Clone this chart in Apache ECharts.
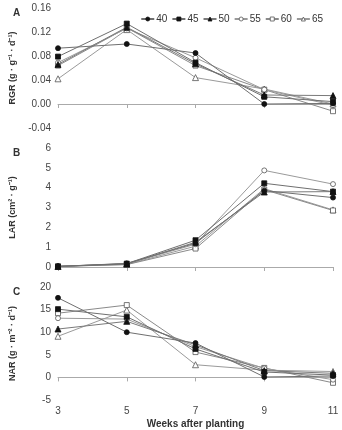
<!DOCTYPE html>
<html>
<head>
<meta charset="utf-8">
<script src="https://cdn.jsdelivr.net/npm/echarts@6/dist/echarts.min.js"></script>
<style>
  html, body { margin: 0; padding: 0; background: #fff; }
  #chart { width: 342px; height: 430px; }
</style>
</head>
<body>
<div id="chart"></div>
<script>
const weeks = [3, 5, 7, 9, 11];
const groups = ['40', '45', '50', '55', '60', '65'];

// RGR (g g-1 d-1)
const rgr40 = [0.093, 0.100, 0.085, 0.000, 0.001];
const rgr45 = [0.079, 0.134, 0.069, 0.012, 0.004];
const rgr50 = [0.066, 0.128, 0.067, 0.015, 0.014];
const rgr55 = [0.069, 0.126, 0.077, 0.024, -0.002];
const rgr60 = [0.064, 0.127, 0.064, 0.024, -0.012];
const rgr65 = [0.042, 0.124, 0.044, 0.025, 0.000];

// LAR (cm2 g-1)
const lar40 = [0.03, 0.18, 1.20, 3.85, 3.50];
const lar45 = [0.03, 0.17, 1.35, 4.22, 3.80];
const lar50 = [0.03, 0.15, 1.25, 3.78, 3.80];
const lar55 = [0.03, 0.16, 1.15, 4.87, 4.18];
const lar60 = [0.03, 0.12, 0.93, 3.90, 2.85];
const lar65 = [0.03, 0.13, 1.05, 3.95, 2.88];

// NAR (g m-2 d-1)
const nar40 = [17.6, 10.0, 7.6, 0.1, 0.3];
const nar45 = [15.1, 13.4, 6.3, 1.2, 0.5];
const nar50 = [10.7, 12.4, 7.2, 1.5, 0.9];
const nar55 = [13.1, 12.9, 6.8, 2.0, -0.5];
const nar60 = [14.2, 16.0, 5.6, 2.1, -1.2];
const nar65 = [9.1, 14.9, 2.8, 1.6, 1.3];

const symbols = ['circle', 'rect', 'triangle', 'circle', 'rect', 'triangle'];
const filled = [true, true, true, false, false, false];
const lineColors = ['#6f6f6f', '#6f6f6f', '#7a7a7a', '#9a9a9a', '#8a8a8a', '#9a9a9a'];

const panels = [
  { rows: [rgr40, rgr45, rgr50, rgr55, rgr60, rgr65], min: -0.04, max: 0.16, interval: 0.04,
    name: 'RGR (g · g⁻¹ · d⁻¹)', top: 8, height: 120, dec: 2, letter: 'A' },
  { rows: [lar40, lar45, lar50, lar55, lar60, lar65], min: 0, max: 6, interval: 1,
    name: 'LAR (cm² · g⁻¹)', top: 148, height: 119, dec: 0, letter: 'B' },
  { rows: [nar40, nar45, nar50, nar55, nar60, nar65], min: -5, max: 20, interval: 5,
    name: 'NAR (g · m⁻² · d⁻¹)', top: 287, height: 116, dec: 0, letter: 'C' }
];

const font = 'Liberation Sans, Arial, sans-serif';
let chart = echarts.init(document.getElementById('chart'));

function markerStyle(k) {
  return {
    color: filled[k] ? '#111' : '#fff',
    borderColor: filled[k] ? '#111' : '#555',
    borderWidth: 0.8
  };
}

let grids = [], xAxes = [], yAxes = [], series = [], titles = [];
panels.forEach((p, i) => {
  grids.push({ left: 57, right: 9, top: p.top, height: p.height });
  titles.push({
    text: p.letter, left: 8, top: p.top - 5,
    textStyle: { fontSize: 10, fontWeight: 'bold', color: '#333', fontFamily: font }
  });
  xAxes.push({
    gridIndex: i, type: 'value', min: 3, max: 11, interval: 2,
    axisLine: { lineStyle: { color: '#aaa' } },
    axisTick: { show: true, length: 4, lineStyle: { color: '#aaa' } },
    axisLabel: { show: i === 2, color: '#444', fontSize: 10, fontFamily: font, margin: 6 },
    splitLine: { show: false },
    name: i === 2 ? 'Weeks after planting' : '',
    nameLocation: 'middle', nameGap: 19,
    nameTextStyle: { fontSize: 10, fontWeight: 'bold', color: '#333', fontFamily: font }
  });
  yAxes.push({
    gridIndex: i, type: 'value', min: p.min, max: p.max, interval: p.interval,
    axisLine: { show: false }, axisTick: { show: false },
    splitLine: { show: false },
    axisLabel: {
      color: '#444', fontSize: 10, fontFamily: font, margin: 7,
      formatter: (v) => v.toFixed(p.dec)
    },
    name: p.name, nameLocation: 'middle', nameRotate: 90, nameGap: 41,
    nameTextStyle: { fontSize: 9, fontWeight: 'bold', color: '#333', fontFamily: font }
  });
  p.rows.forEach((row, k) => {
    series.push({
      name: groups[k], type: 'line',
      xAxisIndex: i, yAxisIndex: i,
      data: weeks.map((w, j) => [w, row[j]]),
      symbol: symbols[k],
      symbolSize: symbols[k] === 'triangle' ? 6 : 5,
      lineStyle: { color: lineColors[k], width: 1 },
      itemStyle: markerStyle(k),
      z: 10 - k
    });
  });
});

let option = {
  animation: false,
  backgroundColor: '#fff',
  title: titles,
  legend: {
    data: groups.map((g, k) => ({ name: g, itemStyle: markerStyle(k) })),
    top: 9, right: 14,
    itemWidth: 13, itemHeight: 5, itemGap: 4,
    textStyle: { fontSize: 10, color: '#333', fontFamily: font, padding: [0, 0, 0, -3] }
  },
  grid: grids,
  xAxis: xAxes,
  yAxis: yAxes,
  series: series
};
chart.setOption(option);
</script>
</body>
</html>
